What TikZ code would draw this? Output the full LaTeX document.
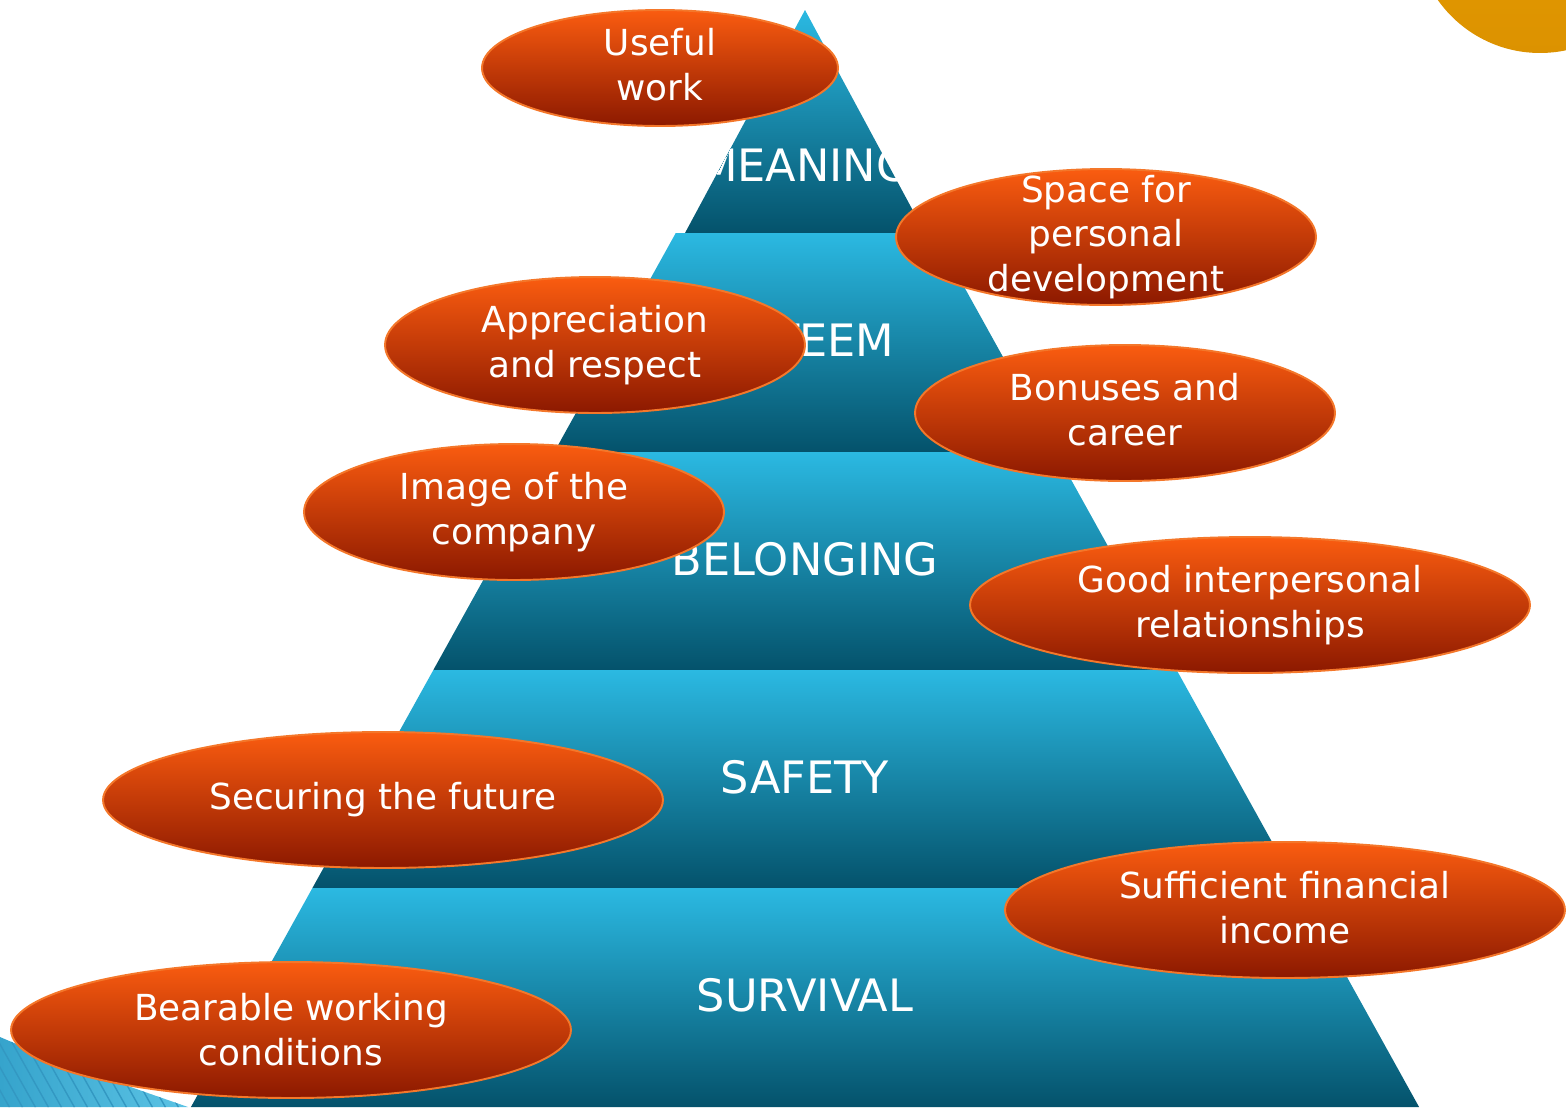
\documentclass[tikz,border=0pt]{standalone}
\usepackage{fontspec}
\setmainfont{DejaVu Sans}
\usetikzlibrary{shapes.geometric}

\definecolor{layertop}{HTML}{2BB9E2}
\definecolor{layermid}{HTML}{088DB5}
\definecolor{layerbot}{HTML}{04526B}
\definecolor{bubtop}{HTML}{FA5C10}
\definecolor{bubmid}{HTML}{E03C00}
\definecolor{bubbot}{HTML}{8C1900}
\definecolor{bubedge}{HTML}{F4772A}
\definecolor{suntop}{HTML}{EAA200}
\definecolor{sunbot}{HTML}{DC9200}
\definecolor{cornerdark}{HTML}{36A4CC}
\definecolor{cornerlight}{HTML}{5EC5E6}
\definecolor{cornerstripe}{HTML}{3398C2}

\tikzset{
  layer/.style={top color=layertop, middle color=layermid, bottom color=layerbot},
  level/.style={text=white, inner sep=0pt, font=\fontsize{25.4}{30}\selectfont},
  bubble/.style={ellipse, inner sep=0pt, top color=bubtop, middle color=bubmid,
    bottom color=bubbot, draw=bubedge, line width=1.1pt},
  bubblesmall/.style={bubble, minimum width=7.12cm, minimum height=2.32cm},
  bubblemid/.style={bubble, minimum width=8.4cm, minimum height=2.72cm},
  bubblewide/.style={bubble, minimum width=11.2cm, minimum height=2.72cm},
  bubbletext/.style={text=white, align=center, inner sep=0pt,
    font=\fontsize{20.4}{25.5}\selectfont}
}

\begin{document}
\begin{tikzpicture}[x=0.02cm, y=-0.02cm]
\useasboundingbox (0,0) rectangle (1566,1107);
\clip (0,0) rectangle (1566,1107);

% corner decorations
\shade[top color=suntop, bottom color=sunbot] (1540,-72) circle [radius=2.5cm];
\begin{scope}
  \clip (0,1037) .. controls (60,1063) and (125,1085) .. (188,1107) -- (0,1107) -- cycle;
  \shade[left color=cornerdark, right color=cornerlight] (0,1030) rectangle (200,1107);
  \foreach \s in {-60,-47,...,200}
    \draw[cornerstripe, line width=0.8pt] (\s,1030) -- ++(45,80);
\end{scope}

% pyramid
\begin{scope}
  \clip (805,10) -- (925,233) -- (685,233) -- cycle;
  \shade[layer] (0,10) rectangle (1566,233);
  \node[level] (meaning) at (805,165) {MEANING};
\end{scope}
\foreach \ya/\yb/\name/\txt in {233/452/esteem/ESTEEM, 452/670/belonging/BELONGING,
    670/888/safety/SAFETY, 888/1107/survival/SURVIVAL}{
  \begin{scope}
    \clip ({805-0.5547*\ya},\ya) -- ({805+0.5547*\ya},\ya)
      -- ({805+0.5547*\yb},\yb) -- ({805-0.5547*\yb},\yb) -- cycle;
    \shade[layer] (0,\ya) rectangle (1566,\yb);
    \node[level] (\name) at (805,{(\ya+\yb)/2-2}) {\txt};
  \end{scope}
}

% factors
\node[bubblesmall] (useful) at (660,68) {};
\node[bubbletext, yshift=2pt] (usefultxt) at (useful) {Useful\\work};
\node[bubblemid] (space) at (1106,237) {};
\node[bubbletext] (spacetxt) at (space) {Space for\\personal\\development};
\node[bubblemid] (appreciation) at (595,345) {};
\node[bubbletext] (appreciationtxt) at (appreciation) {Appreciation\\and respect};
\node[bubblemid] (bonuses) at (1125,413) {};
\node[bubbletext, yshift=1.7pt] (bonusestxt) at (bonuses) {Bonuses and\\career};
\node[bubblemid] (image) at (514,512) {};
\node[bubbletext] (imagetxt) at (image) {Image of the\\company};
\node[bubblewide] (relations) at (1250,605) {};
\node[bubbletext] (relationstxt) at (relations) {Good interpersonal\\relationships};
\node[bubblewide] (future) at (383,800) {};
\node[bubbletext] (futuretxt) at (future) {Securing the future};
\node[bubblewide] (income) at (1285,910) {};
\node[bubbletext, yshift=1.2pt] (incometxt) at (income) {Sufficient financial\\income};
\node[bubblewide] (conditions) at (291,1030) {};
\node[bubbletext] (conditionstxt) at (conditions) {Bearable working\\conditions};
\end{tikzpicture}
\end{document}
